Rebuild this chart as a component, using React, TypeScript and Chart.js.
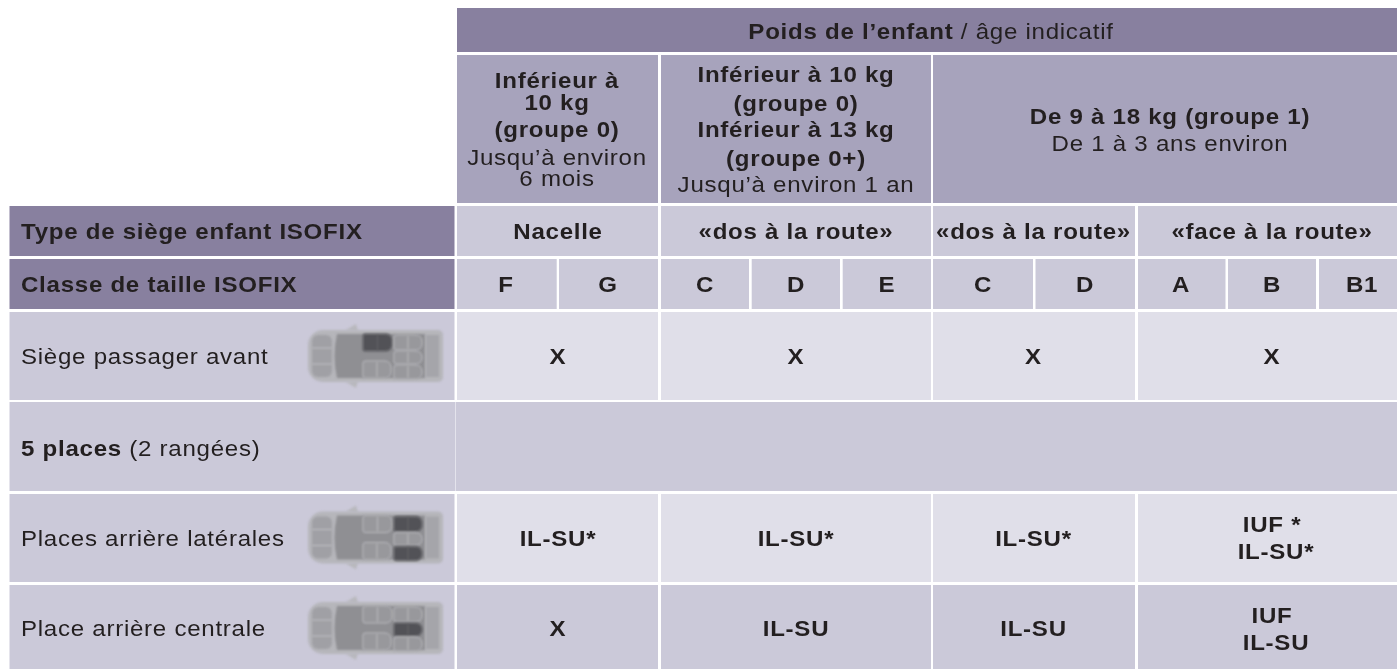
import React, { useEffect, useRef } from "react";
import { Chart, registerables } from "chart.js";

Chart.register(...registerables);

// Table geometry on the chart's own x / y scales
const rowBands = {
  head: [8, 52], weight: [55, 203], type: [206, 256], size: [259, 309],
  front: [312, 400], five: [402, 491], side: [494, 582], centre: [585, 669],
};
const labelBand = [9.5, 454.5];
const groupBands = [[457, 658], [661, 931], [933, 1135], [1138, 1397]];
const sizeBands = [
  [457, 556.7], [559, 658], [661, 749], [751.7, 840], [842.7, 931],
  [933, 1033], [1035.5, 1135], [1138, 1225.5], [1228, 1316], [1319, 1397],
];

// Texts
const headBold = "Poids de l’enfant";
const headPlain = " / âge indicatif";
const typeLabels = ["Nacelle", "«dos à la route»", "«dos à la route»", "«face à la route»"];
const sizeLabels = ["F", "G", "C", "D", "E", "C", "D", "A", "B", "B1"];
const rowLabels = ["Siège passager avant", "Places arrière latérales", "Place arrière centrale"];
const frontValues = ["X", "X", "X", "X"];
const sideValues = ["IL-SU*", "IL-SU*", "IL-SU*"];
const centreValues = ["X", "IL-SU", "IL-SU"];

const DARK = "#88809f", MID = "#a7a3bc", LIGHT = "#cbc9d9", PALE = "#e0dfe9", INK = "#231f20";
const FONT = '"Liberation Sans", Arial, sans-serif';

type Cell = { x: number[]; y: number[]; c: string };
const cells: Cell[] = [
  { x: [457, 1397], y: rowBands.head, c: DARK },
  ...groupBands.slice(0, 2).map((x) => ({ x, y: rowBands.weight, c: MID })),
  { x: [933, 1397], y: rowBands.weight, c: MID },
  { x: labelBand, y: rowBands.type, c: DARK },
  { x: labelBand, y: rowBands.size, c: DARK },
  { x: labelBand, y: rowBands.front, c: LIGHT },
  { x: [labelBand[0], 455.3], y: rowBands.five, c: LIGHT },
  { x: [455.7, 1397], y: rowBands.five, c: LIGHT },
  { x: labelBand, y: rowBands.side, c: LIGHT },
  { x: labelBand, y: rowBands.centre, c: LIGHT },
  ...groupBands.map((x) => ({ x, y: rowBands.type, c: LIGHT })),
  ...sizeBands.map((x) => ({ x, y: rowBands.size, c: LIGHT })),
  ...groupBands.map((x) => ({ x, y: rowBands.front, c: PALE })),
  ...groupBands.map((x) => ({ x, y: rowBands.side, c: PALE })),
  ...groupBands.map((x) => ({ x, y: rowBands.centre, c: LIGHT })),
];

type Run = { t: string; b: boolean };
type Txt = { x: number; y: number; runs: Run[]; left?: boolean };
const B = (t: string, x: number, y: number): Txt => ({ x, y, runs: [{ t, b: true }] });
const R = (t: string, x: number, y: number): Txt => ({ x, y, runs: [{ t, b: false }] });
const L = (runs: Run[], y: number): Txt => ({ x: 21, y, runs, left: true });

const groupCentres = [558, 796, 1033.5, 1272];
const sizeCentres = [506, 608, 705, 796, 887, 983, 1085, 1181, 1272, 1362];

const texts: Txt[] = [
  { x: 931, y: 38.5, runs: [{ t: headBold, b: true }, { t: headPlain, b: false }] },
  B("Inférieur à", 557, 88), B("10 kg", 557, 110), B("(groupe 0)", 557, 137),
  R("Jusqu’à environ", 557, 165), R("6 mois", 557, 186),
  B("Inférieur à 10 kg", 796, 82), B("(groupe 0)", 796, 110.5), B("Inférieur à 13 kg", 796, 137),
  B("(groupe 0+)", 796, 165.5), R("Jusqu’à environ 1 an", 796, 192),
  B("De 9 à 18 kg (groupe 1)", 1170, 123.5), R("De 1 à 3 ans environ", 1170, 151),
  L([{ t: "Type de siège enfant ISOFIX", b: true }], 239),
  L([{ t: "Classe de taille ISOFIX", b: true }], 292),
  L([{ t: rowLabels[0], b: false }], 364),
  L([{ t: "5 places", b: true }, { t: " (2 rangées)", b: false }], 456),
  L([{ t: rowLabels[1], b: false }], 545.5),
  L([{ t: rowLabels[2], b: false }], 635.5),
  ...typeLabels.map((t, i) => B(t, groupCentres[i], 239)),
  ...sizeLabels.map((t, i) => B(t, sizeCentres[i], 292)),
  ...frontValues.map((t, i) => B(t, groupCentres[i], 364)),
  ...sideValues.map((t, i) => B(t, groupCentres[i], 546)),
  B("IUF *", 1272, 532), B("IL-SU*", 1276, 559),
  ...centreValues.map((t, i) => B(t, groupCentres[i], 636)),
  B("IUF", 1272, 623), B("IL-SU", 1276, 650),
];

// Car icons: row centre, and which seats are dark
const cars = [
  { cy: 356, dark: ["frontTop"] },
  { cy: 537.5, dark: ["rearTop", "rearBottom"] },
  { cy: 628, dark: ["rearMid"] },
];

function drawCar(ctx: CanvasRenderingContext2D, X: (v: number) => number, Y: (v: number) => number, car: { cy: number; dark: string[] }) {
  const x = (v: number) => X(v);
  const y = (v: number) => Y(car.cy + v);
  ctx.save();
  ctx.filter = "blur(0.9px)";
  // Mirrors
  ctx.fillStyle = "#b8b8bd";
  ctx.beginPath();
  ctx.moveTo(x(346), y(-26)); ctx.lineTo(x(356), y(-32)); ctx.lineTo(x(358), y(-25)); ctx.closePath(); ctx.fill();
  ctx.beginPath();
  ctx.moveTo(x(346), y(26)); ctx.lineTo(x(356), y(32)); ctx.lineTo(x(358), y(25)); ctx.closePath(); ctx.fill();
  // Shell
  ctx.fillStyle = "#b6b6bb";
  ctx.beginPath();
  ctx.roundRect(x(308), y(-26), 135, 52, [15, 5, 5, 15]);
  ctx.fill();
  // Bonnet
  ctx.fillStyle = "#a0a0a5";
  ctx.beginPath();
  ctx.roundRect(x(312), y(-21), 20, 42, 6);
  ctx.fill();
  ctx.strokeStyle = "#c3c3c8";
  ctx.lineWidth = 1;
  [-8, 8].forEach((d) => {
    ctx.beginPath(); ctx.moveTo(x(312), y(d)); ctx.lineTo(x(332), y(d)); ctx.stroke();
  });
  // Cabin floor
  ctx.fillStyle = "#8f8f93";
  ctx.beginPath();
  ctx.moveTo(x(337), y(-22)); ctx.lineTo(x(425), y(-22)); ctx.lineTo(x(425), y(22));
  ctx.lineTo(x(337), y(22)); ctx.quadraticCurveTo(x(332), y(0), x(337), y(-22)); ctx.closePath(); ctx.fill();
  // Boot
  ctx.fillStyle = "#a5a5aa";
  ctx.fillRect(x(426), y(-21), 13, 42);
  // Seats
  const seat = (sx: number, sy: number, w: number, h: number, dark: boolean) => {
    ctx.fillStyle = dark ? "#525257" : "#98989c";
    ctx.beginPath();
    ctx.roundRect(x(sx), y(sy), w, h, [2, 6, 6, 2]);
    ctx.fill();
    ctx.strokeStyle = dark ? "#66666a" : "#bcbcc1";
    ctx.lineWidth = 1;
    ctx.stroke();
    ctx.beginPath();
    ctx.moveTo(x(sx + w * 0.5), y(sy + 1)); ctx.lineTo(x(sx + w * 0.5), y(sy + h - 1)); ctx.stroke();
  };
  seat(363, -22, 29, 17, car.dark.includes("frontTop"));
  seat(363, 5, 28, 17, car.dark.includes("frontBottom"));
  seat(394, -21, 28, 15, car.dark.includes("rearTop"));
  seat(394, -5, 28, 13, car.dark.includes("rearMid"));
  seat(394, 9, 28, 14, car.dark.includes("rearBottom"));
  ctx.restore();
}

const H_STRETCH = 1.12;

const tablePlugin = {
  id: "tableText",
  afterDatasetsDraw(chart: any) {
    const { ctx, scales } = chart;
    const X = (v: number) => scales.x.getPixelForValue(v);
    const Y = (v: number) => scales.y.getPixelForValue(v);
    cars.forEach((c) => drawCar(ctx, X, Y, c));
    ctx.save();
    ctx.fillStyle = INK;
    ctx.textBaseline = "alphabetic";
    ctx.textAlign = "left";
    ctx.filter = "blur(0.35px)";
    ctx.letterSpacing = "0.65px";
    const fontOf = (b: boolean) => `${b ? "bold " : ""}21.5px ${FONT}`;
    texts.forEach((tx) => {
      const widths = tx.runs.map((r) => {
        ctx.font = fontOf(r.b);
        return ctx.measureText(r.t).width * H_STRETCH;
      });
      const total = widths.reduce((a, b) => a + b, 0);
      let px = tx.left ? X(tx.x) : X(tx.x) - total / 2;
      tx.runs.forEach((r, i) => {
        ctx.font = fontOf(r.b);
        ctx.save();
        ctx.translate(px, Y(tx.y));
        ctx.scale(H_STRETCH, 1);
        ctx.fillText(r.t, 0, 0);
        ctx.restore();
        px += widths[i];
      });
    });
    ctx.restore();
  },
};

export default function App() {
  const ref = useRef<HTMLCanvasElement>(null);
  useEffect(() => {
    const chart = new Chart(ref.current!, {
      type: "bar",
      data: {
        datasets: cells.map((c) => ({
          data: [{ x: (c.x[0] + c.x[1]) / 2, y: c.y }],
          backgroundColor: c.c,
          borderWidth: 0,
          inflateAmount: 0,
          grouped: false,
          barThickness: c.x[1] - c.x[0],
        })) as any,
      },
      options: {
        responsive: false,
        animation: false,
        layout: { padding: 0 },
        plugins: { legend: { display: false }, tooltip: { enabled: false }, title: { display: false } },
        scales: {
          x: { type: "linear", min: 0, max: 1397, display: false, offset: false },
          y: { type: "linear", min: 0, max: 669, reverse: true, display: false },
        },
      },
      plugins: [tablePlugin],
    });
    return () => chart.destroy();
  }, []);
  return (
    <canvas
      ref={ref}
      width={1397}
      height={669}
      style={{ position: "absolute", left: 0, top: 0, width: 1397, height: 669, display: "block" }}
    />
  );
}
